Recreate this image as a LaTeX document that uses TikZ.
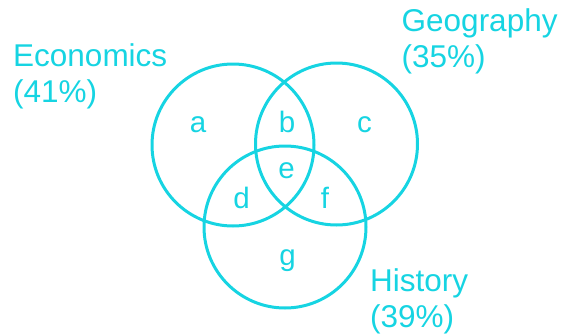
\documentclass[tikz,border=0pt]{standalone}
\usepackage{fontspec}
\setmainfont{Liberation Sans}
\usepackage{tikz}
\definecolor{venn}{RGB}{22,212,226}

\begin{document}
\begin{tikzpicture}[
    x=1pt, y=-1pt,
    every node/.style={text=venn},
    set/.style={circle, draw=venn, line width=3pt, minimum size=162pt, inner sep=0pt},
    setname/.style={anchor=base west, align=left, inner sep=0pt, font=\fontsize{31.5}{36}\selectfont},
    region/.style={anchor=base, inner sep=0pt, font=\fontsize{29.5}{34}\selectfont},
]
\useasboundingbox (0,0) rectangle (563,335);

% the three sets
\node[set] (econ) at (233,145) {};
\node[set] (geog) at (336.5,144) {};
\node[set] (hist) at (285,227) {};

% set names (anchored at the second line)
\node[setname] (econname) at (13,102) {Economics\\(41\%)};
\node[setname] (geogname) at (401.5,67) {Geography\\(35\%)};
\node[setname] (histname) at (370,327) {History\\(39\%)};

% regions
\node[region] (ra) at (198,132) {a};
\node[region] (rb) at (287,132) {b};
\node[region] (rc) at (364.5,132) {c};
\node[region] (re) at (286.5,178) {e};
\node[region] (rd) at (241.5,208) {d};
\node[region] (rf) at (325,208) {f};
\node[region] (rg) at (287.5,265) {g};

\end{tikzpicture}
\end{document}
